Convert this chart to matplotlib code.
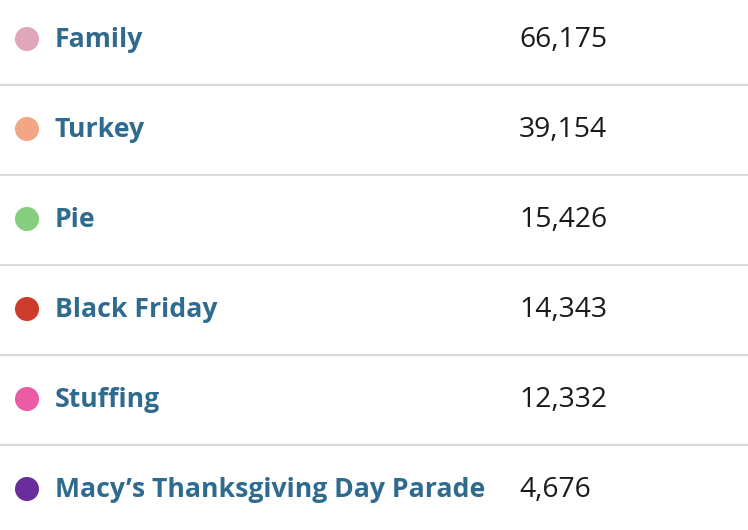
import matplotlib.pyplot as plt

# rows of the table
labels = ['Family', 'Turkey', 'Pie', 'Black Friday', 'Stuffing',
          'Macy\u2019s Thanksgiving Day Parade']
counts = [66175, 39154, 15426, 14343, 12332, 4676]
dot_colors = ['#e0a7b9', '#f3a686', '#86cd7d', '#cc3b2b', '#ec5ba6', '#6a2d9c']

W, H = 748, 530
row_h = 90
first_y = 39

fig = plt.figure(figsize=(W / 100, H / 100), dpi=100)
ax = fig.add_axes([0, 0, 1, 1])
ax.set_xlim(0, W)
ax.set_ylim(H, 0)
ax.axis('off')

ys = [first_y + row_h * i for i in range(len(labels))]

# dots
ax.scatter([27] * len(ys), ys, s=300, c=dot_colors, linewidths=0, zorder=3)

for i, (lab, n) in enumerate(zip(labels, counts)):
    y = ys[i]
    ax.text(55, y + 1, lab, fontsize=19.2, fontweight='bold', color='#2e6b8f',
            family='Open Sans', va='center', ha='left')
    ax.text(519, y + 1, '{:,}'.format(n), fontsize=20.3, color='#1a1a1a',
            family='Open Sans', va='center', ha='left')
    # separator below each row except the last
    if i < len(labels) - 1:
        ax.axhline(y + row_h / 2 + 1, color='#d9d9d9', lw=1.5, zorder=1)

fig.savefig('out.png', dpi=100)
